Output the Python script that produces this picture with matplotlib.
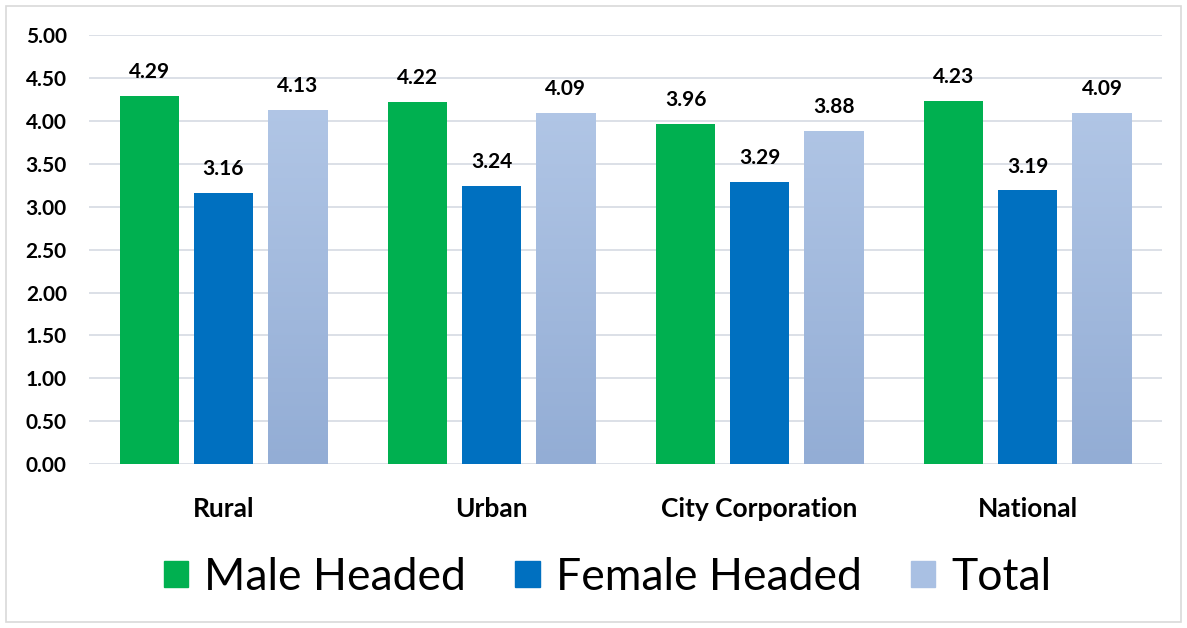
import matplotlib
matplotlib.use("Agg")
import matplotlib.pyplot as plt
import numpy as np
from matplotlib.patches import Rectangle, Patch
from matplotlib.colors import LinearSegmentedColormap

categories = ["Rural", "Urban", "City Corporation", "National"]
male = [4.29, 4.22, 3.96, 4.23]
female = [3.16, 3.24, 3.29, 3.19]
total = [4.13, 4.09, 3.88, 4.09]
series_names = ["Male Headed", "Female Headed", "Total"]
yticks = [0, 0.5, 1, 1.5, 2, 2.5, 3, 3.5, 4, 4.5, 5]

plt.rcParams['font.family'] = ['Lato', 'DejaVu Sans']

fig = plt.figure(figsize=(11.87, 6.28), dpi=100)
ax = fig.add_axes([0.075, 0.261, 0.904, 0.683])

x = np.arange(len(categories))
w = 0.22
step = 0.276
green = "#00B050"
blue = "#0070C0"
light_top = "#B7CBE9"
light_bot = "#93ADD5"

bm = ax.bar(x - step, male, w, color=green, zorder=3)
bf = ax.bar(x, female, w, color=blue, zorder=3)
bt = ax.bar(x + step, total, w, color="none", zorder=3)

cmap = LinearSegmentedColormap.from_list("g", [light_bot, light_top])
grad = np.linspace(0, 1, 256).reshape(-1, 1)
for rect in bt:
    x0 = rect.get_x(); h = rect.get_height()
    im = ax.imshow(grad, extent=[x0, x0 + rect.get_width(), 0, 5], origin="lower",
                   cmap=cmap, aspect="auto", zorder=3)
    clip = Rectangle((x0, 0), rect.get_width(), h, transform=ax.transData)
    im.set_clip_path(clip)

for bars, vals in [(bm, male), (bf, female), (bt, total)]:
    for rect, v in zip(bars, vals):
        ax.annotate(f"{v:.2f}", (rect.get_x() + rect.get_width() / 2, v),
                    xytext=(0, 10), textcoords="offset points", ha="center", va="bottom",
                    fontsize=15, fontweight="bold", color="#000000")

ax.set_xlim(-0.5, 3.5)
ax.set_ylim(0, 5)
ax.set_yticks(yticks)
ax.set_yticklabels([f"{t:.2f}" for t in yticks], fontsize=15, fontweight="bold")
ax.set_xticks(x)
ax.set_xticklabels(categories, fontsize=19, fontweight="bold")
ax.tick_params(axis="both", length=0)
ax.tick_params(axis="x", pad=24)
ax.tick_params(axis="y", pad=16)
ax.grid(axis="y", color="#D9DDE5", linewidth=1.3, zorder=0)
ax.set_axisbelow(True)
for s in ax.spines.values():
    s.set_visible(False)

handles = [Patch(color=green), Patch(color=blue), Patch(color="#A9C0E3")]
fig.legend(handles, series_names, loc="center", bbox_to_anchor=(0.512, 0.081), ncol=3,
           frameon=False, fontsize=32, handlelength=0.55, handleheight=0.55,
           handletextpad=0.37, columnspacing=1.1)

fig.patches.append(Rectangle((6 / 1187, 6 / 628), 1 - 12 / 1187, 1 - 12 / 628,
                             transform=fig.transFigure, fill=False,
                             edgecolor="#D9D9D9", linewidth=1.2))

fig.savefig("out.png", dpi=100)
